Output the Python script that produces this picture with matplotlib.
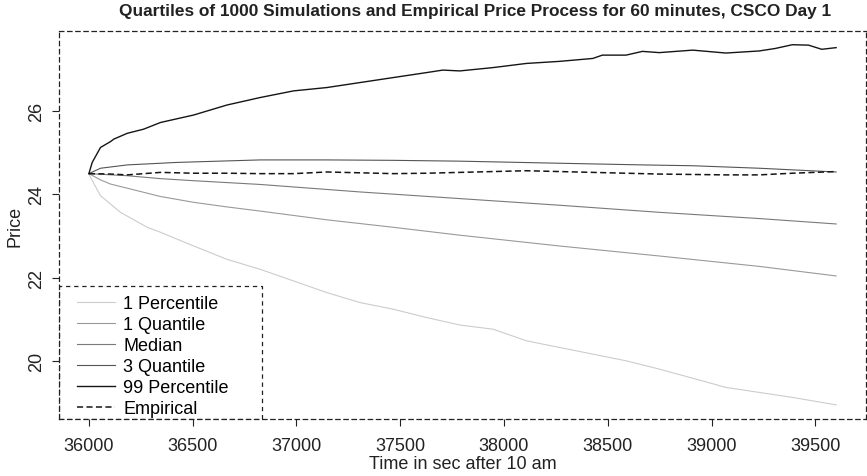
import matplotlib
matplotlib.use("Agg")
import matplotlib.pyplot as plt
from matplotlib.patches import Rectangle

plt.rcParams['font.family'] = ['Liberation Sans', 'DejaVu Sans']

# Simulated quantile paths (time in seconds, price)
t_p01 = [36000, 36008, 36056, 36152, 36281, 36345, 36505, 36665, 36825,
         36986, 37146, 37306, 37466, 37627, 37787, 37947, 38108, 38268, 38428, 38588,
         38748, 38909, 39069, 39229, 39389, 39600]
p01 = [24.50, 24.41, 23.97, 23.57, 23.21, 23.09, 22.76, 22.44, 22.20,
       21.92, 21.64, 21.40, 21.24, 21.04, 20.86, 20.76, 20.48, 20.32, 20.16, 20.00,
       19.80, 19.58, 19.36, 19.24, 19.12, 18.94]

t_q1 = [36000, 36056, 36104, 36185, 36345, 36505, 36665, 36825, 37146, 37466, 37787,
        38268, 38748, 39229, 39600]
q1 = [24.50, 24.35, 24.25, 24.15, 23.95, 23.81, 23.70, 23.60, 23.39, 23.21, 23.02,
      22.76, 22.52, 22.27, 22.04]

t_med = [36000, 36185, 36345, 36505, 36825, 37306, 37787, 38268, 38748, 39229, 39600]
med = [24.50, 24.45, 24.38, 24.33, 24.24, 24.06, 23.90, 23.74, 23.57, 23.42, 23.29]

t_q3 = [36000, 36056, 36185, 36425, 36825, 37146, 37466, 37787, 38268, 38667, 38909,
        39229, 39600]
q3 = [24.50, 24.63, 24.71, 24.77, 24.83, 24.83, 24.82, 24.80, 24.75, 24.71, 24.69,
      24.63, 24.54]

t_p99 = [36000, 36016, 36056, 36104, 36120, 36185, 36264, 36345, 36505, 36665, 36825,
         36986, 37146, 37306, 37466, 37627, 37705, 37787, 37947, 38108, 38268, 38428,
         38474, 38588, 38667, 38748, 38909, 39069, 39229, 39307, 39389, 39467, 39531,
         39600]
p99 = [24.50, 24.77, 25.13, 25.27, 25.33, 25.47, 25.57, 25.73, 25.91, 26.15, 26.33,
       26.49, 26.57, 26.69, 26.81, 26.93, 26.99, 26.97, 27.05, 27.15, 27.20, 27.27,
       27.35, 27.35, 27.44, 27.41, 27.47, 27.40, 27.45, 27.51, 27.60, 27.59, 27.49,
       27.53]

# Observed price path
t_emp = [36000, 36104, 36185, 36345, 36505, 36665, 36825, 36986, 37146, 37306, 37466,
         37627, 37787, 38108, 38428, 38748, 39069, 39229, 39389, 39600]
emp = [24.50, 24.49, 24.47, 24.53, 24.51, 24.51, 24.50, 24.50, 24.54, 24.52, 24.50,
       24.51, 24.53, 24.57, 24.53, 24.49, 24.47, 24.47, 24.51, 24.55]

x_ticks = [36000, 36500, 37000, 37500, 38000, 38500, 39000, 39500]
y_ticks = [20, 22, 24, 26]

W, H = 867, 477
fig = plt.figure(figsize=(W / 100, H / 100), dpi=100)
ax_l, ax_r, ax_t, ax_b = 59, 866, 32, 420
ax = fig.add_axes([ax_l / W, 1 - ax_b / H, (ax_r - ax_l) / W, (ax_b - ax_t) / H])

lw = 0.8
ax.plot(t_p01, p01, color='#cccccc', lw=lw, label='1 Percentile')
ax.plot(t_q1, q1, color='#9a9a9a', lw=lw, label='1 Quantile')
ax.plot(t_med, med, color='#7a7a7a', lw=lw, label='Median')
ax.plot(t_q3, q3, color='#555555', lw=lw, label='3 Quantile')
ax.plot(t_p99, p99, color='#151515', lw=1.0, label='99 Percentile')
ax.plot(t_emp, emp, color='#151515', lw=1.1, ls=(0, (4, 2.2)), label='Empirical')

ax.set_xlim(35856, 39744)
ax.set_ylim(18.6, 27.93)
ax.set_xticks(x_ticks)
ax.set_xticklabels([str(v) for v in x_ticks])
ax.set_yticks(y_ticks)
ax.set_yticklabels([str(v) for v in y_ticks], rotation=90, va='center')

dash = (0, (3.5, 3))
for s in ax.spines.values():
    s.set_linestyle(dash)
    s.set_linewidth(0.9)
    s.set_color('#222222')

ax.tick_params(axis='both', direction='out', length=5, width=0.8, color='#222222',
               labelsize=13, labelcolor='#222222')
ax.tick_params(axis='x', pad=8)
ax.tick_params(axis='y', pad=5)

ax.set_xlabel('Time in sec after 10 am', fontsize=13, color='#222222', labelpad=1)
ax.set_ylabel('Price', fontsize=13, color='#222222', labelpad=3)
fig.text(0.548, 0.975, 'Quartiles of 1000 Simulations and Empirical Price Process for 60 minutes, CSCO Day 1',
         ha='center', va='center', fontsize=12.4, fontweight='bold', color='#222222')

# Legend entries without frame; dashed box drawn separately
pw, ph = ax_r - ax_l, ax_b - ax_t
leg = ax.legend(loc='lower left', bbox_to_anchor=((77 - ax_l) / pw, (ax_b - 418) / ph),
                borderaxespad=0, borderpad=0, fontsize=13, frameon=False,
                handlelength=2.1, handletextpad=0.45, labelspacing=0.22)
box = Rectangle((0, 0), (262 - ax_l) / pw, (ax_b - 287) / ph, transform=ax.transAxes,
                fill=False, edgecolor='#222222', linewidth=0.9, linestyle=dash, zorder=5)
ax.add_patch(box)

fig.savefig('out.png', dpi=100)
